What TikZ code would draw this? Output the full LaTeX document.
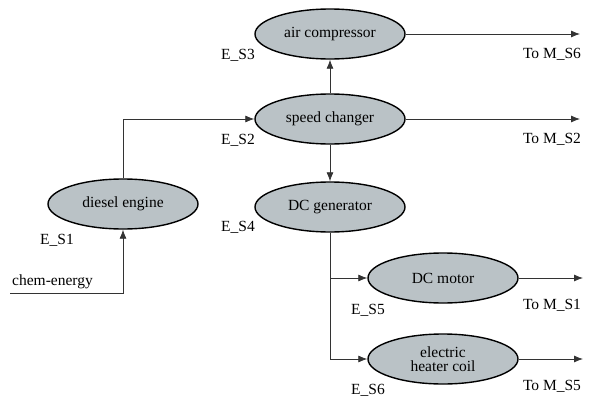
\documentclass[tikz,border=0pt]{standalone}
\usepackage{fontspec}
\setmainfont{Liberation Serif}
\usetikzlibrary{arrows.meta,positioning,shapes.geometric}

\definecolor{unitgrey}{RGB}{186,194,198}
\tikzset{
  unit/.style={ellipse,draw=black,line width=1.4pt,fill=unitgrey,minimum width=150,minimum height=50,inner sep=0pt,align=center},
  flow/.style={-{Latex[length=9pt,width=7pt]},draw=black!80,line width=0.8pt},
  tag/.style={inner sep=0pt}
}

\begin{document}
\begin{tikzpicture}[x=1pt,y=-1pt,font=\fontsize{15.5}{15}\selectfont]
        \useasboundingbox (0,0) rectangle (605,399);

        % Units
        \node[unit] (diesel) at (123,204) {diesel engine};
        \node[unit] (speed) at (330,119) {speed changer};
        \node[unit] (aircomp) at (330,34) {air compressor};
        \node[unit] (dcgen) at (330,207) {DC generator};
        \node[unit] (dcmotor) at (443,278) {DC motor};
        \node[unit] (heater) at (443,359) {electric\\[-1pt]heater coil};

        % Unit labels
        \node[tag] (es1) at (57,240) {E\_S1};
        \node[tag] (es2) at (238,140) {E\_S2};
        \node[tag] (es3) at (238,55) {E\_S3};
        \node[tag] (es4) at (238,227) {E\_S4};
        \node[tag] (es5) at (368,310) {E\_S5};
        \node[tag] (es6) at (368,390) {E\_S6};

        % Free ends
        \coordinate (chemIn) at (10,293);
        \coordinate (outM6) at (580,34);
        \coordinate (outM2) at (580,119);
        \coordinate (outM1) at (583,278);
        \coordinate (outM5) at (583,359);

        % Output labels
        \node[tag] (toM6) at (552,54) {To M\_S6};
        \node[tag] (toM2) at (552,139) {To M\_S2};
        \node[tag] (toM1) at (552,305) {To M\_S1};
        \node[tag] (toM5) at (552,386) {To M\_S5};
        \node[tag,anchor=south west] (chem) at (12,289) {chem-energy};

        % Arcs between units
        \draw[flow] (chemIn) -| (diesel);
        \draw[flow] (diesel) |- (speed);
        \draw[flow] (speed) -- (aircomp);
        \draw[flow] (speed) -- (dcgen);
        \draw[flow] (dcgen.south) |- (dcmotor);
        \draw[flow] (dcgen.south) |- (heater);

        % Arcs to outputs
        \draw[flow] (aircomp) -- (outM6);
        \draw[flow] (speed) -- (outM2);
        \draw[flow] (dcmotor) -- (outM1);
        \draw[flow] (heater) -- (outM5);
\end{tikzpicture}
\end{document}
